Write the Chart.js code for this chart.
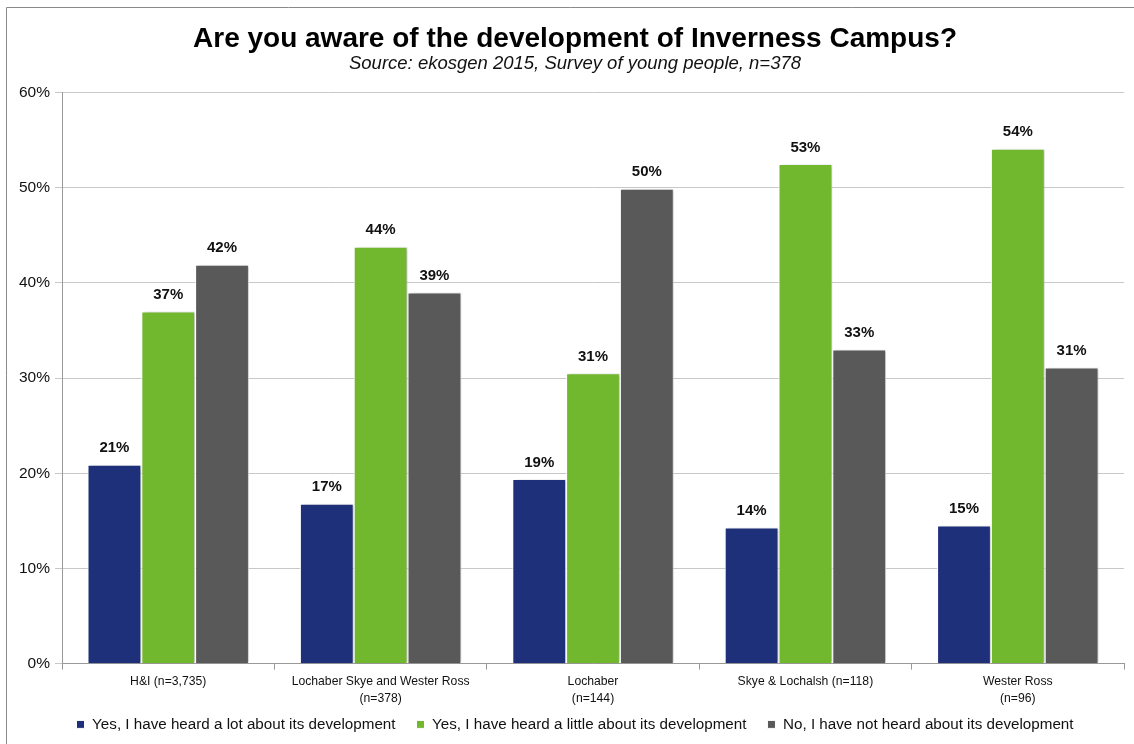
<!DOCTYPE html>
<html>
<head>
<meta charset="utf-8">
<script src="https://cdn.jsdelivr.net/npm/chart.js@4"></script>
<style>
    html, body { margin: 0; padding: 0; background: #fff; }
    #wrap { position: relative; width: 1134px; height: 744px; }
</style>
</head>
<body>
<div id="wrap"><canvas id="awarenessChart" width="1134" height="744"></canvas></div>
<script>
const areas = [
    'H&I (n=3,735)',
    ['Lochaber Skye and Wester Ross', '(n=378)'],
    ['Lochaber', '(n=144)'],
    'Skye & Lochalsh (n=118)',
    ['Wester Ross', '(n=96)']
];
const heardALot = [20.9, 16.8, 19.4, 14.3, 14.5];
const heardALittle = [37.0, 43.8, 30.5, 52.5, 54.1];
const notHeard = [41.9, 39.0, 49.9, 33.0, 31.1];

const FONT = "'Liberation Sans', Arial, sans-serif";
const LEGEND_TRIM = 14;
const TEXT_SHIFT = 6;

// soft drop shadow behind each bar
const barShadow = {
    id: 'barShadow',
    beforeDatasetDraw(chart) {
        const ctx = chart.ctx;
        ctx.save();
        ctx.shadowColor = 'rgba(0,0,0,0.22)';
        ctx.shadowBlur = 3;
        ctx.shadowOffsetX = 3;
        ctx.shadowOffsetY = 0;
    },
    afterDatasetDraw(chart) {
        chart.ctx.restore();
    }
};

// percentage above every bar
const valueLabels = {
    id: 'valueLabels',
    afterDatasetsDraw(chart) {
        const ctx = chart.ctx;
        ctx.save();
        ctx.font = 'bold 15px ' + FONT;
        ctx.fillStyle = '#111';
        ctx.textAlign = 'center';
        ctx.textBaseline = 'bottom';
        chart.data.datasets.forEach((ds, i) => {
            chart.getDatasetMeta(i).data.forEach((bar, j) => {
                ctx.fillText(Math.round(ds.data[j]) + '%', bar.x, bar.y - 9);
            });
        });
        ctx.restore();
    }
};

// legend padding is shared between rows and items; keep the wide item
// spacing but let the legend box overlap the axis labels a little.
// Titles and legend also sit a little right of the canvas centre.
const boxTweaks = {
    id: 'boxTweaks',
    beforeLayout(chart) {
        const legend = chart.legend;
        if (legend && !legend._trimmed) {
            const fit = legend.fit;
            legend.fit = function () {
                fit.call(this);
                this.height -= LEGEND_TRIM;
            };
            legend._trimmed = true;
        }
    },
    afterLayout(chart) {
        if (chart.legend) {
            chart.legend.top -= LEGEND_TRIM;
            chart.legend.height += LEGEND_TRIM;
        }
        chart.boxes.forEach(box => {
            if (!(box instanceof Chart.Scale)) {
                box.left += TEXT_SHIFT;
                box.right += TEXT_SHIFT;
            }
        });
    }
};

// frame lines on the left and top of the picture
const frame = {
    id: 'frame',
    afterDraw(chart) {
        const ctx = chart.ctx;
        ctx.save();
        ctx.strokeStyle = '#8a8a8a';
        ctx.lineWidth = 1;
        ctx.beginPath();
        ctx.moveTo(6.5, 744);
        ctx.lineTo(6.5, 7.5);
        ctx.lineTo(1134, 7.5);
        ctx.stroke();
        ctx.restore();
    }
};

new Chart(document.getElementById('awarenessChart').getContext('2d'), {
    type: 'bar',
    data: {
        labels: areas,
        datasets: [
            {
                label: 'Yes, I have heard a lot about its development',
                data: heardALot,
                backgroundColor: '#1f307b',
                borderColor: '#ffffff',
                borderWidth: 1
            },
            {
                label: 'Yes, I have heard a little about its development',
                data: heardALittle,
                backgroundColor: '#72b82e',
                borderColor: '#ffffff',
                borderWidth: 1
            },
            {
                label: 'No, I have not heard about its development',
                data: notHeard,
                backgroundColor: '#595959',
                borderColor: '#ffffff',
                borderWidth: 1
            }
        ]
    },
    options: {
        responsive: false,
        animation: false,
        datasets: {
            bar: {
                categoryPercentage: 0.76,
                barPercentage: 1.0
            }
        },
        layout: {
            padding: { left: 14, right: 10, top: 0, bottom: 2 }
        },
        plugins: {
            title: {
                display: true,
                text: 'Are you aware of the development of Inverness Campus?',
                color: '#000',
                font: { family: FONT, size: 28, weight: 'bold', lineHeight: 1.0 },
                padding: { top: 25, bottom: 2 }
            },
            subtitle: {
                display: true,
                text: 'Source: ekosgen 2015, Survey of young people, n=378',
                color: '#111',
                font: { family: FONT, size: 18.5, style: 'italic', lineHeight: 1.0 },
                padding: { top: 0, bottom: 19 }
            },
            legend: {
                position: 'bottom',
                labels: {
                    color: '#111',
                    font: { family: FONT, size: 15.2 },
                    boxWidth: 8,
                    boxHeight: 8,
                    padding: 21
                }
            },
            tooltip: { enabled: false }
        },
        scales: {
            x: {
                grid: {
                    display: true,
                    drawOnChartArea: false,
                    tickLength: 6,
                    color: '#999'
                },
                border: { color: '#999' },
                ticks: {
                    color: '#111',
                    font: { family: FONT, size: 12.2, lineHeight: 1.4 },
                    maxRotation: 0,
                    padding: 3
                }
            },
            y: {
                min: 0,
                max: 60,
                grid: {
                    color: '#c8c8c8',
                    tickLength: 7
                },
                border: { color: '#999' },
                ticks: {
                    stepSize: 10,
                    color: '#111',
                    font: { family: FONT, size: 15.5 },
                    padding: 5,
                    callback: v => v + '%'
                }
            }
        }
    },
    plugins: [barShadow, valueLabels, boxTweaks, frame]
});
</script>
</body>
</html>
